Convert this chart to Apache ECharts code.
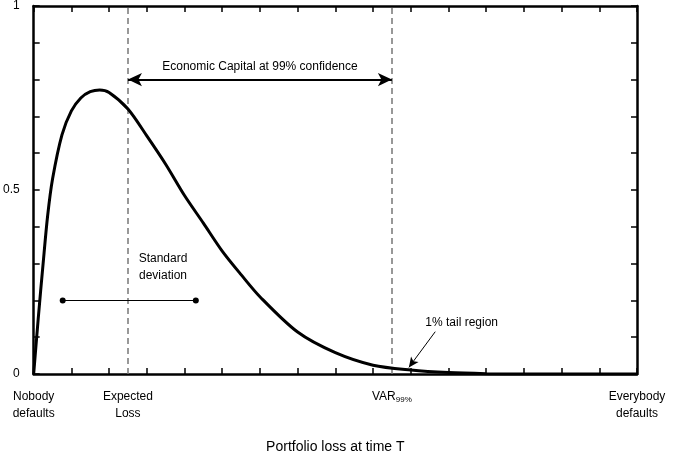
<!DOCTYPE html>
<html>
<head>
<meta charset="utf-8">
<script src="https://cdn.jsdelivr.net/npm/echarts@6/dist/echarts.min.js"></script>
<style>body{margin:0}#main{width:676px;height:459px}</style>
</head>
<body>
<div id="main"></div>
<script>
var lossX = [0, 0.12, 0.25, 0.37, 0.5, 0.75, 1, 1.25, 1.5, 1.75, 2, 2.5, 3, 3.5, 4, 4.5, 5, 5.5, 6, 7, 8, 9, 10, 11, 12, 13, 14, 15, 16];
var density = [0, 0.15, 0.3, 0.43, 0.53, 0.65, 0.715, 0.75, 0.767, 0.772, 0.765, 0.72, 0.647, 0.57, 0.485, 0.41, 0.334, 0.27, 0.21, 0.114, 0.058, 0.024, 0.011, 0.004, 0.001, 0, 0, 0, 0];
var xLabelValues = [0, 2.5, 9.5, 16];
var xLabelTexts = {0: 'Nobody\ndefaults', 2.5: 'Expected\nLoss', 9.5: '{b|VAR}{s|99%}', 16: 'Everybody\ndefaults'};
var yLabelValues = [0, 0.5, 1];
var expectedLoss = 2.5, var99 = 9.5;
var capitalY = 0.8;
var stdDev = [0.77, 4.3], stdY = 0.2;

var myChart = echarts.init(document.getElementById('main'));
var font = 'Arial, Liberation Sans, sans-serif';
var data = lossX.map(function (x, i) { return [x, density[i]]; });

function txt(coord, text) {
  return {coord: coord, symbol: 'rect', symbolSize: 1, itemStyle: {color: 'rgba(0,0,0,0)'},
    label: {show: true, position: 'inside', formatter: text, color: '#000', fontSize: 12, fontFamily: font, lineHeight: 17}};
}

var line = {show: true, onZero: false, lineStyle: {color: '#000', width: 2.5}};
var tick = {show: true, inside: true, length: 6, lineStyle: {color: '#000', width: 1.5}};
var option = {
  animation: false,
  grid: {left: 33, right: 39, top: 2, bottom: 80},
  xAxis: [{
    type: 'value', min: 0, max: 16, interval: 1,
    name: 'Portfolio loss at time T', nameLocation: 'middle', nameGap: 66,
    nameTextStyle: {color: '#000', fontSize: 14, fontFamily: font},
    axisLine: line, splitLine: {show: false}, axisTick: tick,
    axisLabel: {customValues: xLabelValues, color: '#000', fontSize: 12, fontFamily: font, margin: 14, lineHeight: 17,
      formatter: function (v) { return xLabelTexts[v]; },
      rich: {b: {fontSize: 12, color: '#000', fontFamily: font}, s: {fontSize: 8, color: '#000', fontFamily: font, padding: [6, 0, 0, 0]}}}
  }, {
    type: 'value', position: 'top', min: 0, max: 16, interval: 1,
    axisLine: line, splitLine: {show: false}, axisLabel: {show: false}, axisTick: tick
  }],
  yAxis: [{
    type: 'value', min: 0, max: 1, interval: 0.1,
    axisLine: line, splitLine: {show: false}, axisTick: tick,
    axisLabel: {customValues: yLabelValues, color: '#000', fontSize: 12, fontFamily: font, margin: 14}
  }, {
    type: 'value', position: 'right', min: 0, max: 1, interval: 0.1,
    axisLine: line, splitLine: {show: false}, axisTick: tick, axisLabel: {show: false}
  }],
  series: [{
    type: 'line', data: data, smooth: 0.3, showSymbol: false,
    lineStyle: {color: '#000', width: 3}, z: 5,
    markLine: {
      silent: true, symbol: 'none', label: {show: false},
      data: [
        {xAxis: expectedLoss, lineStyle: {color: '#777', type: [6, 4], width: 1.5}},
        {xAxis: var99, lineStyle: {color: '#777', type: [6, 4], width: 1.5}},
        [{coord: [expectedLoss, capitalY], symbol: 'arrow', symbolSize: [10, 14], lineStyle: {color: '#000', type: 'solid', width: 2}},
         {coord: [var99, capitalY], symbol: 'arrow', symbolSize: [10, 14]}],
        [{coord: [stdDev[0], stdY], symbol: 'circle', symbolSize: 6, lineStyle: {color: '#000', type: 'solid', width: 1.2}},
         {coord: [stdDev[1], stdY], symbol: 'circle', symbolSize: 6}],
        [{coord: [10.65, 0.115], symbol: 'none', lineStyle: {color: '#000', type: 'solid', width: 1}},
         {coord: [9.95, 0.018], symbol: 'arrow', symbolSize: [7, 10]}]
      ]
    },
    markPoint: {
      silent: true,
      data: [
        txt([6, 0.835], 'Economic Capital at 99% confidence'),
        txt([3.43, 0.29], 'Standard\ndeviation'),
        txt([11.35, 0.14], '1% tail region')
      ]
    }
  }]
};
myChart.setOption(option);
</script>
</body>
</html>
